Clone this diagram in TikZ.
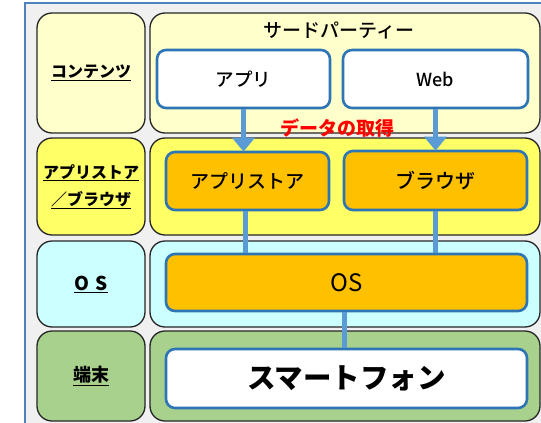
\documentclass[tikz,border=0pt]{standalone}
\usepackage{fontspec}
\setmainfont{Noto Sans CJK JP}
\newfontfamily\jpmed{Noto Sans CJK JP Medium}
\usetikzlibrary{arrows.meta}
\definecolor{frameblue}{HTML}{4F81BD}
\definecolor{boxblue}{HTML}{2E75B6}
\definecolor{linkblue}{HTML}{5B9BD5}
\definecolor{bgray}{HTML}{F0F0F0}
\definecolor{paleyellow}{HTML}{FFFFCC}
\definecolor{brightyellow}{HTML}{FFFF66}
\definecolor{palecyan}{HTML}{CCFFFF}
\definecolor{leafgreen}{HTML}{A9D18E}
\definecolor{amber}{HTML}{FFC000}
\tikzset{
  layer/.style={draw=black!85, line width=1.3pt, rounded corners=15pt, inner sep=0pt},
  part/.style={draw=boxblue, line width=2.6pt, rounded corners=9pt, inner sep=0pt},
  tag/.style={font=\bfseries\fontsize{16}{27}\selectfont},
  link/.style={draw=linkblue, line width=5pt},
  arr/.style={link, -{Triangle[width=22pt, length=14pt]}, shorten >=-1pt},
}
\begin{document}
\begin{tikzpicture}[x=1pt, y=-1pt]
  \clip (0,0) rectangle (541,423);
  \useasboundingbox (0,0) rectangle (541,423);
  % frame
  \fill[bgray] (25,3) rectangle (560,440);
  \draw[frameblue, line width=1.2pt] (25,440) -- (25,3) -- (560,3);

  % left column
  \node[layer, fill=paleyellow, minimum width=108pt, minimum height=120pt, tag] (c) at (91,73) {\underline{コンテンツ}};
  \node[layer, fill=brightyellow, minimum width=108pt, minimum height=97pt, tag, align=center] (b) at (91,186.5) {\underline{アプリストア}\\\underline{／ブラウザ}};
  \node[layer, fill=palecyan, minimum width=108pt, minimum height=86pt, tag, font=\bfseries\fontsize{19}{22}\selectfont] (o) at (91,284) {\underline{O\hspace{6pt}S}};
  \node[layer, fill=leafgreen, minimum width=108pt, minimum height=90pt, tag, font=\bfseries\fontsize{18}{22}\selectfont] (t) at (91,376) {\underline{端末}};

  % right column
  \node[layer, fill=paleyellow, minimum width=390pt, minimum height=120pt] (cc) at (345,73) {};
  \node[layer, fill=brightyellow, minimum width=390pt, minimum height=97pt] (bb) at (345,186.5) {};
  \node[layer, fill=palecyan, minimum width=390pt, minimum height=86pt] (oo) at (345,284) {};
  \node[layer, fill=leafgreen, minimum width=390pt, minimum height=90pt] (tt) at (345,376) {};

  \node[font=\jpmed\fontsize{19}{22}\selectfont] (third) at (339,30) {サードパーティー};

  % input nodes position and text
  \node[part, fill=white, minimum width=173pt, minimum height=58pt, font=\jpmed\fontsize{18.5}{22}\selectfont] (app) at (243.5,79) {アプリ};
  \node[part, fill=white, minimum width=185pt, minimum height=58pt, font=\jpmed\fontsize{18}{22}\selectfont] (web) at (435.5,79) {Web};
  \node[part, fill=amber, minimum width=163pt, minimum height=58pt, font=\jpmed\fontsize{19}{22}\selectfont] (store) at (247.5,181) {アプリストア};
  \node[part, fill=amber, minimum width=183pt, minimum height=59pt, font=\jpmed\fontsize{20}{24}\selectfont] (brow) at (435.5,180.5) {ブラウザ};
  \node[part, fill=amber, minimum width=361pt, minimum height=57pt, font=\fontsize{24}{28}\selectfont] (os) at (346.5,282.5) {OS};
  \node[part, fill=white, minimum width=361pt, minimum height=59pt, font=\bfseries\fontsize{28.5}{32}\selectfont] (phone) at (346.5,378.5) {スマートフォン};

  \node[text=red, font=\bfseries\fontsize{19}{22}\selectfont] (get) at (337,128) {データの取得};

  % connectors
  \draw[arr] (app.south) -- (app.south |- store.north);
  \draw[arr] (web.south) -- (web.south |- brow.north);
  \draw[link] ([xshift=-2.5pt]store.south) -- ([xshift=-2.5pt]store.south |- os.north);
  \draw[link] (brow.south) -- (brow.south |- os.north);
  \draw[link] ([xshift=-2.5pt]os.south) -- ([xshift=-2.5pt]phone.north);
\end{tikzpicture}
\end{document}
